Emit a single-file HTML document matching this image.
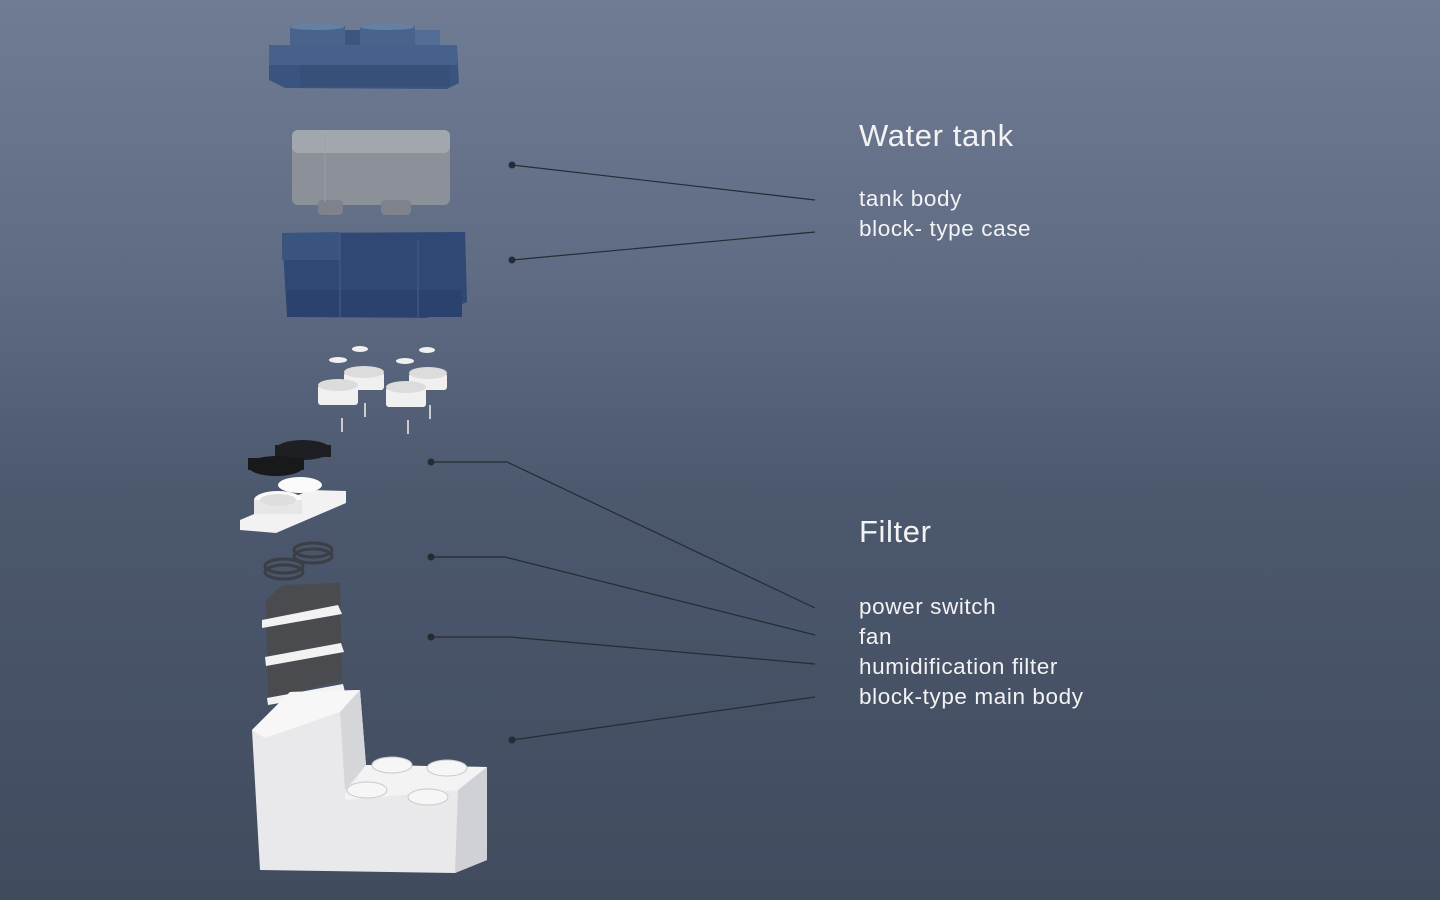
<!DOCTYPE html>
<html><head><meta charset="utf-8"><style>
html,body{margin:0;padding:0;width:1440px;height:900px;overflow:hidden}
body{background:linear-gradient(180deg,#6f7c94 0%,#5f6c84 30%,#4c586e 55%,#414b5e 100%);font-family:"Liberation Sans",sans-serif}
svg{position:absolute;left:0;top:0}
</style></head><body>
<svg width="1440" height="900" viewBox="0 0 1440 900">
<!-- top cap -->
<g>
<rect x="290" y="26" width="55" height="22" fill="#4a638a"/>
<rect x="360" y="26" width="55" height="22" fill="#4a638a"/>
<rect x="345" y="30" width="15" height="18" fill="#3d5680"/>
<rect x="415" y="30" width="25" height="18" fill="#526d96"/>
<ellipse cx="317" cy="27" rx="27" ry="3" fill="#6580a5"/>
<ellipse cx="387" cy="27" rx="27" ry="3" fill="#6580a5"/>
<polygon points="269,45 457,48 459,83 447,89 285,88 269,80" fill="#3a5480"/>
<rect x="269" y="45" width="188" height="20" fill="#46618b"/>
<rect x="300" y="65" width="150" height="22" fill="#36507a"/>
</g>
<!-- tank body -->
<g>
<rect x="292" y="130" width="158" height="75" rx="6" fill="#8b9099"/>
<rect x="292" y="130" width="158" height="23" rx="6" fill="#a2a7ae"/>
<rect x="318" y="200" width="25" height="15" rx="4" fill="#7d828b"/>
<rect x="381" y="200" width="30" height="15" rx="4" fill="#7d828b"/>
<line x1="325" y1="133" x2="325" y2="202" stroke="#9ca1a8"/>
</g>
<!-- case -->
<g>
<polygon points="282,233 465,232 467,302 427,318 287,317" fill="#2f4874"/>
<polygon points="282,233 340,232 340,260 282,260" fill="#3a5480"/>
<rect x="287" y="290" width="175" height="27" fill="#2a426d"/>
<line x1="340" y1="232" x2="340" y2="317" stroke="#46618a"/>
<line x1="418" y1="240" x2="418" y2="317" stroke="#46618a"/>
</g>
<!-- small parts -->
<g fill="#f0f0f0">
<ellipse cx="360" cy="349" rx="8" ry="3"/><ellipse cx="427" cy="350" rx="8" ry="3"/>
<ellipse cx="338" cy="360" rx="9" ry="3"/><ellipse cx="405" cy="361" rx="9" ry="3"/>
<rect x="344" y="372" width="40" height="18" rx="3"/><rect x="409" y="373" width="38" height="17" rx="3"/>
<rect x="318" y="385" width="40" height="20" rx="3"/><rect x="386" y="387" width="40" height="20" rx="3"/>
<ellipse cx="364" cy="372" rx="20" ry="6" fill="#dcdcdc"/><ellipse cx="428" cy="373" rx="19" ry="6" fill="#dcdcdc"/>
<ellipse cx="338" cy="385" rx="20" ry="6" fill="#dcdcdc"/><ellipse cx="406" cy="387" rx="20" ry="6" fill="#dcdcdc"/>
<rect x="364" y="403" width="2" height="14" fill="#ccc"/><rect x="429" y="405" width="2" height="14" fill="#ccc"/>
<rect x="341" y="418" width="2" height="14" fill="#ccc"/><rect x="407" y="420" width="2" height="14" fill="#ccc"/>
</g>
<!-- filters -->
<g>
<ellipse cx="303" cy="450" rx="28" ry="10" fill="#1d1f22"/><rect x="275" y="445" width="56" height="12" fill="#1d1f22"/>
<ellipse cx="276" cy="466" rx="28" ry="10" fill="#18191b"/><rect x="248" y="458" width="56" height="12" fill="#18191b"/>
<polygon points="240,520 310,490 346,491 346,503 276,533 240,530" fill="#f2f2f2"/>
<ellipse cx="300" cy="485" rx="22" ry="8" fill="#fafafa"/>
<ellipse cx="278" cy="500" rx="24" ry="9" fill="#fafafa"/>
<rect x="254" y="500" width="48" height="14" fill="#e6e6e6"/>
<ellipse cx="278" cy="500" rx="18" ry="6" fill="#dedede"/>
</g>
<!-- fans -->
<g fill="none" stroke="#3b3e44" stroke-width="3">
<ellipse cx="313" cy="550" rx="19" ry="7"/><ellipse cx="313" cy="556" rx="19" ry="7"/>
<ellipse cx="284" cy="566" rx="19" ry="7"/><ellipse cx="284" cy="572" rx="19" ry="7"/>
</g>
<!-- filter block -->
<g>
<polygon points="266,600 282,585 340,583 342,680 268,700" fill="#4a4b4f"/>
<polygon points="262,620 338,605 342,614 262,628" fill="#f2f2f2"/>
<polygon points="265,657 341,643 344,652 266,666" fill="#f2f2f2"/>
<polygon points="267,698 343,684 345,692 268,705" fill="#f2f2f2"/>
</g>
<!-- main body -->
<g>
<polygon points="252,730 290,692 360,690 366,765 487,767 487,860 455,873 260,870" fill="#e9e9ec"/>
<polygon points="252,730 290,692 360,690 340,712 265,738" fill="#f7f7f7"/>
<polygon points="340,712 360,690 366,765 345,790" fill="#d4d6da"/>
<polygon points="345,795 366,765 487,767 458,790 345,800" fill="#f3f3f4"/>
<polygon points="458,790 487,767 487,860 455,873" fill="#cfd1d6"/>
<g fill="#f6f6f6" stroke="#c8c8c8">
<ellipse cx="392" cy="765" rx="20" ry="8"/><ellipse cx="447" cy="768" rx="20" ry="8"/>
<ellipse cx="367" cy="790" rx="20" ry="8"/><ellipse cx="428" cy="797" rx="20" ry="8"/>
</g>
</g>
<!-- leaders -->
<g stroke="#262b34" stroke-width="1.2" fill="none">
<polyline points="512,165 815,200"/>
<polyline points="512,260 815,232"/>
<polyline points="431,462 507,462 815,608"/>
<polyline points="431,557 505,557 815,635"/>
<polyline points="431,637 510,637 815,664"/>
<polyline points="512,740 815,697"/>
</g>
<g fill="#262b34">
<circle cx="512" cy="165" r="3.5"/><circle cx="512" cy="260" r="3.5"/>
<circle cx="431" cy="462" r="3.5"/><circle cx="431" cy="557" r="3.5"/>
<circle cx="431" cy="637" r="3.5"/><circle cx="512" cy="740" r="3.5"/>
</g>
<g fill="#f3f3f3" font-family="Liberation Sans, sans-serif">
<text x="859" y="146" font-size="31" letter-spacing="0.6">Water tank</text>
<text x="859" y="206" font-size="22.5" letter-spacing="0.6">tank body</text>
<text x="859" y="236" font-size="22.5" letter-spacing="0.6">block- type case</text>
<text x="859" y="542" font-size="31" letter-spacing="0.6">Filter</text>
<text x="859" y="614" font-size="22.5" letter-spacing="0.6">power switch</text>
<text x="859" y="644" font-size="22.5" letter-spacing="0.6">fan</text>
<text x="859" y="674" font-size="22.5" letter-spacing="0.6">humidification filter</text>
<text x="859" y="704" font-size="22.5" letter-spacing="0.6">block-type main body</text>
</g>
</svg>
</body></html>
